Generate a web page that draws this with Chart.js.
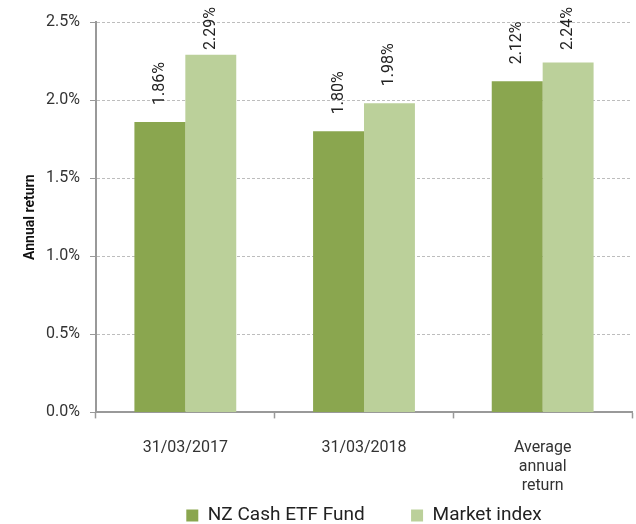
<!DOCTYPE html>
<html>
<head>
<meta charset="utf-8">
<script src="https://cdn.jsdelivr.net/npm/chart.js@4"></script>
<style>
  body { margin: 0; background: #fff; }
  #wrap { width: 636px; height: 524px; }
</style>
</head>
<body>
<div id="wrap"><canvas id="returns"></canvas></div>
<script>
const categories = ['31/03/2017', '31/03/2018', ['Average', 'annual', 'return']];
const fundReturns = [1.86, 1.80, 2.12];
const indexReturns = [2.29, 1.98, 2.24];
const yTicks = [0, 0.5, 1.0, 1.5, 2.0, 2.5];

// rotated value labels above each bar
const barLabels = {
  id: 'barLabels',
  afterDatasetsDraw(chart) {
    const ctx = chart.ctx;
    ctx.save();
    ctx.font = '16px Roboto';
    ctx.fillStyle = '#222';
    ctx.textAlign = 'left';
    ctx.textBaseline = 'middle';
    chart.data.datasets.forEach((ds, i) => {
      chart.getDatasetMeta(i).data.forEach((bar, j) => {
        const y = Math.max(bar.y - 17, 50);
        ctx.save();
        ctx.translate(bar.x, y);
        ctx.rotate(-Math.PI / 2);
        ctx.fillText(ds.data[j].toFixed(2) + '%', 0, 0);
        ctx.restore();
      });
    });
    ctx.restore();
  }
};

new Chart(document.getElementById('returns'), {
  type: 'bar',
  data: {
    labels: categories,
    datasets: [
      // trailing spaces just widen the gap between the two legend entries
      { label: 'NZ Cash ETF Fund         ', data: fundReturns, backgroundColor: '#8aa64f' },
      { label: 'Market index', data: indexReturns, backgroundColor: '#bbd09a' }
    ]
  },
  options: {
    responsive: true,
    maintainAspectRatio: false,
    animation: false,
    layout: { padding: { top: 22, right: 4, left: 0, bottom: -11 } },
    categoryPercentage: 0.57,
    barPercentage: 1.0,
    plugins: {
      legend: {
        position: 'bottom',
        fullSize: false,
        labels: { font: { family: 'Roboto', size: 19 }, color: '#222', boxWidth: 12, boxHeight: 12, padding: 4 }
      },
      tooltip: { enabled: false }
    },
    scales: {
      x: {
        afterFit: s => { s.height = s.height - 14; },
        grid: { drawOnChartArea: false, tickLength: 6, tickColor: '#999', tickWidth: 1.5 },
        border: { color: '#999', width: 2 },
        ticks: { font: { family: 'Roboto', size: 16 }, color: '#333', padding: 20 }
      },
      y: {
        min: 0, max: 2.5,
        afterBuildTicks: s => { s.ticks = yTicks.map(v => ({ value: v })); },
        afterFit: s => { s.width = 96; },
        grid: { color: '#bdbdbd', tickBorderDash: [], tickColor: '#999', tickLength: 6 },
        border: { color: '#999', width: 2, dash: [3, 2] },
        ticks: { font: { family: 'Roboto', size: 16 }, color: '#333', padding: 10, callback: v => v.toFixed(1) + '%' },
        title: { display: true, text: 'Annual return', font: { family: 'Roboto', size: 14, weight: 'bold' }, color: '#111', padding: { top: 22, bottom: 4 } }
      }
    }
  },
  plugins: [barLabels]
});
</script>
</body>
</html>
